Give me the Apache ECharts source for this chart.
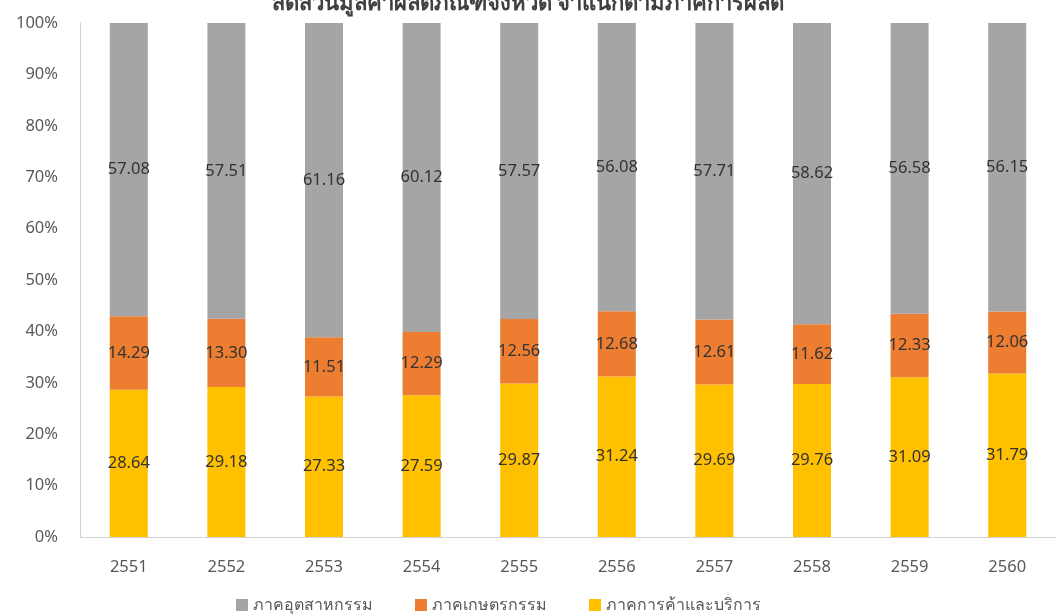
<!DOCTYPE html>
<html><head><meta charset="utf-8">
<script src="https://cdn.jsdelivr.net/npm/echarts@6/dist/echarts.min.js"></script>
<style>html,body{margin:0;padding:0;background:#fff}#c{width:1056px;height:614px}</style>
</head><body><div id="c"></div>
<script>
const categories = ['2551','2552','2553','2554','2555','2556','2557','2558','2559','2560'];
const industry = [57.08,57.51,61.16,60.12,57.57,56.08,57.71,58.62,56.58,56.15];
const agriculture = [14.29,13.30,11.51,12.29,12.56,12.68,12.61,11.62,12.33,12.06];
const trade = [28.64,29.18,27.33,27.59,29.87,31.24,29.69,29.76,31.09,31.79];
const seriesNames = ['ภาคอุตสาหกรรม','ภาคเกษตรกรรม','ภาคการค้าและบริการ'];
const yTicks = [0,10,20,30,40,50,60,70,80,90,100];

const FONT = 'Tahoma, "Noto Sans", "DejaVu Sans", sans-serif';
const chart = echarts.init(document.getElementById('c'));
const lbl = {show:true, position:'inside', color:'#333333', fontSize:16.5, fontFamily:FONT,
  formatter: p => p.value.toFixed(2)};
chart.setOption({
  animation:false,
  title:{text:'สัดส่วนมูลค่าผลิตภัณฑ์จังหวัด จำแนกตามภาคการผลิต', left:'center', top:-12,
    textStyle:{fontSize:22, fontWeight:'bold', color:'#404040', fontFamily:FONT}},
  legend:{data:seriesNames, bottom:-4, left:231, itemWidth:12, itemHeight:12, itemGap:42,
    icon:'rect', textStyle:{fontSize:16, color:'#595959', fontFamily:FONT}},
  grid:{left:80, top:23, width:980, height:514, containLabel:false},
  xAxis:{type:'category', data:categories,
    axisLine:{lineStyle:{color:'#d0d0d0'}}, axisTick:{show:false},
    axisLabel:{color:'#595959', fontSize:16.5, margin:22, fontFamily:FONT}},
  yAxis:{type:'value', min:0, max:100, interval:10,
    axisLine:{show:true, lineStyle:{color:'#d0d0d0'}}, axisTick:{show:false},
    splitLine:{show:false},
    axisLabel:{color:'#595959', fontSize:16.5, margin:22, fontFamily:FONT,
      formatter: v => yTicks.includes(v) ? v + '%' : ''}},
  series:[
    {name:seriesNames[2], type:'bar', stack:'s', data:trade, barWidth:38, itemStyle:{color:'#FFC000'}, label:lbl},
    {name:seriesNames[1], type:'bar', stack:'s', data:agriculture, barWidth:38, itemStyle:{color:'#ED7D31'}, label:lbl},
    {name:seriesNames[0], type:'bar', stack:'s', data:industry, barWidth:38, itemStyle:{color:'#A5A5A5'}, label:lbl}
  ]
});
</script></body></html>
